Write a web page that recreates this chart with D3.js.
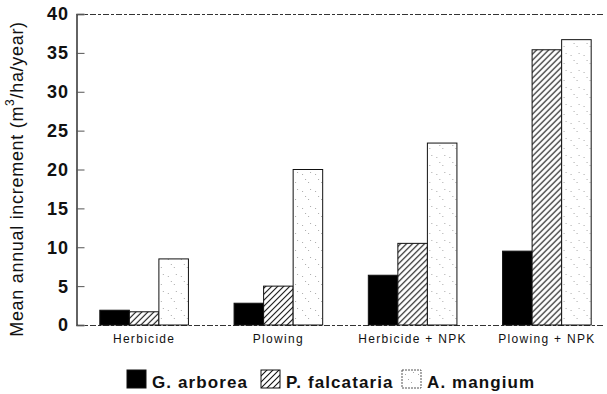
<!DOCTYPE html>
<html><head><meta charset="utf-8">
<script src="https://cdn.jsdelivr.net/npm/d3@7"></script>
<style>body{margin:0;background:#fff}svg{display:block}</style>
</head><body><svg id="c" width="607" height="394"></svg>
<script>
const categories = ["Herbicide", "Plowing", "Herbicide + NPK", "Plowing + NPK"];
const species = ["G. arborea", "P. falcataria", "A. mangium"];
const gArborea = [1.9, 2.8, 6.4, 9.5];
const pFalcataria = [1.7, 5.0, 10.5, 35.4];
const aMangium = [8.5, 20.0, 23.4, 36.7];
const yTicks = [0, 5, 10, 15, 20, 25, 30, 35, 40];
const seriesValues = [gArborea, pFalcataria, aMangium];

(function(){
const svg = d3.select("#c");
const defs = svg.append("defs");
const hatch = defs.append("pattern").attr("id","hatch").attr("patternUnits","userSpaceOnUse")
  .attr("width",6).attr("height",6);
hatch.append("rect").attr("width",6).attr("height",6).attr("fill","#fff");
hatch.append("path").attr("d","M-1,1 l2,-2 M0,6 l6,-6 M5,7 l2,-2").attr("stroke","#111").attr("stroke-width",1.1);
const dots = defs.append("pattern").attr("id","dots").attr("patternUnits","userSpaceOnUse")
  .attr("width",13).attr("height",17);
dots.append("rect").attr("width",13).attr("height",17).attr("fill","#fff");
[[3,4],[9,12],[6,9],[11,2]].forEach(p=>dots.append("rect").attr("x",p[0]).attr("y",p[1]).attr("width",1).attr("height",1).attr("fill","#aaa"));
const fills = ["#000", "url(#hatch)", "url(#dots)"];

const pl = 77, pr = 603, pt = 14, pb = 325;
const y = d3.scaleLinear().domain([0,40]).range([pb, pt]);
const x0 = d3.scaleBand().domain(categories).range([77, 614]).paddingInner(0.34).paddingOuter(0.17);
const x1 = d3.scaleBand().domain(species).range([0, x0.bandwidth()]);

svg.append("line").attr("x1",pl).attr("x2",pr).attr("y1",pt+0.5).attr("y2",pt+0.5)
  .attr("stroke","#333").attr("stroke-dasharray","6,2,3,2");
svg.append("line").attr("x1",pl).attr("x2",pr).attr("y1",pb+0.5).attr("y2",pb+0.5)
  .attr("stroke","#333").attr("stroke-dasharray","6,2,3,2");

const yAxis = d3.axisRight(y).tickValues(yTicks).tickSize(8).tickFormat("");
const ya = svg.append("g").attr("transform",`translate(${pl-0.5},0)`).call(yAxis);
ya.select(".domain").attr("stroke","#111").attr("stroke-width",1.3);
ya.selectAll(".tick line").attr("stroke","#555");
svg.append("g").selectAll("text").data(yTicks).join("text")
  .attr("x",69).attr("y",d=>y(d)).attr("dy","0.36em").attr("text-anchor","end")
  .attr("font-family","Liberation Sans, Arial, sans-serif").attr("font-weight","bold")
  .attr("font-size",18).attr("letter-spacing","1px").attr("fill","#111").text(d=>d);

const groups = svg.append("g").selectAll("g").data(categories).join("g")
  .attr("transform",d=>`translate(${x0(d)},0)`);
groups.selectAll("rect").data((c,i)=>species.map((s,j)=>({s,j,v:seriesValues[j][i]}))).join("rect")
  .attr("x",d=>x1(d.s)).attr("width",x1.bandwidth())
  .attr("y",d=>y(d.v)).attr("height",d=>y(0)-y(d.v))
  .attr("fill",d=>fills[d.j]).attr("stroke","#111").attr("stroke-width",1);

svg.append("g").selectAll("text").data(categories).join("text")
  .attr("x",d=>x0(d)+x0.bandwidth()/2).attr("y",343).attr("text-anchor","middle")
  .attr("font-family","Liberation Sans, Arial, sans-serif").attr("font-size",12)
  .attr("letter-spacing","1.3px").attr("fill","#111").text(d=>d);

svg.append("text").attr("transform","translate(17,179) rotate(-90)")
  .attr("text-anchor","middle").attr("dominant-baseline","central")
  .attr("font-family","Liberation Sans, Arial, sans-serif").attr("font-size",18)
  .attr("letter-spacing","0.7px").attr("fill","#111")
  .html('Mean annual increment (m<tspan baseline-shift="super" font-size="12">3</tspan>/ha/year)');

const legX = [127, 261, 402];
const leg = svg.append("g").selectAll("g").data(species).join("g")
  .attr("transform",(d,i)=>`translate(${legX[i]},370)`);
leg.append("rect").attr("width",19).attr("height",18).attr("fill",(d,i)=>fills[i])
  .attr("stroke",(d,i)=>i==2?"#555":"#111").attr("stroke-dasharray",(d,i)=>i==2?"2,1":null);
leg.append("text").attr("x",25).attr("y",18).attr("font-family","Liberation Sans, Arial, sans-serif")
  .attr("font-weight","bold").attr("font-size",17).attr("letter-spacing","1.1px").attr("fill","#111").text(d=>d);
})();
</script></body></html>
